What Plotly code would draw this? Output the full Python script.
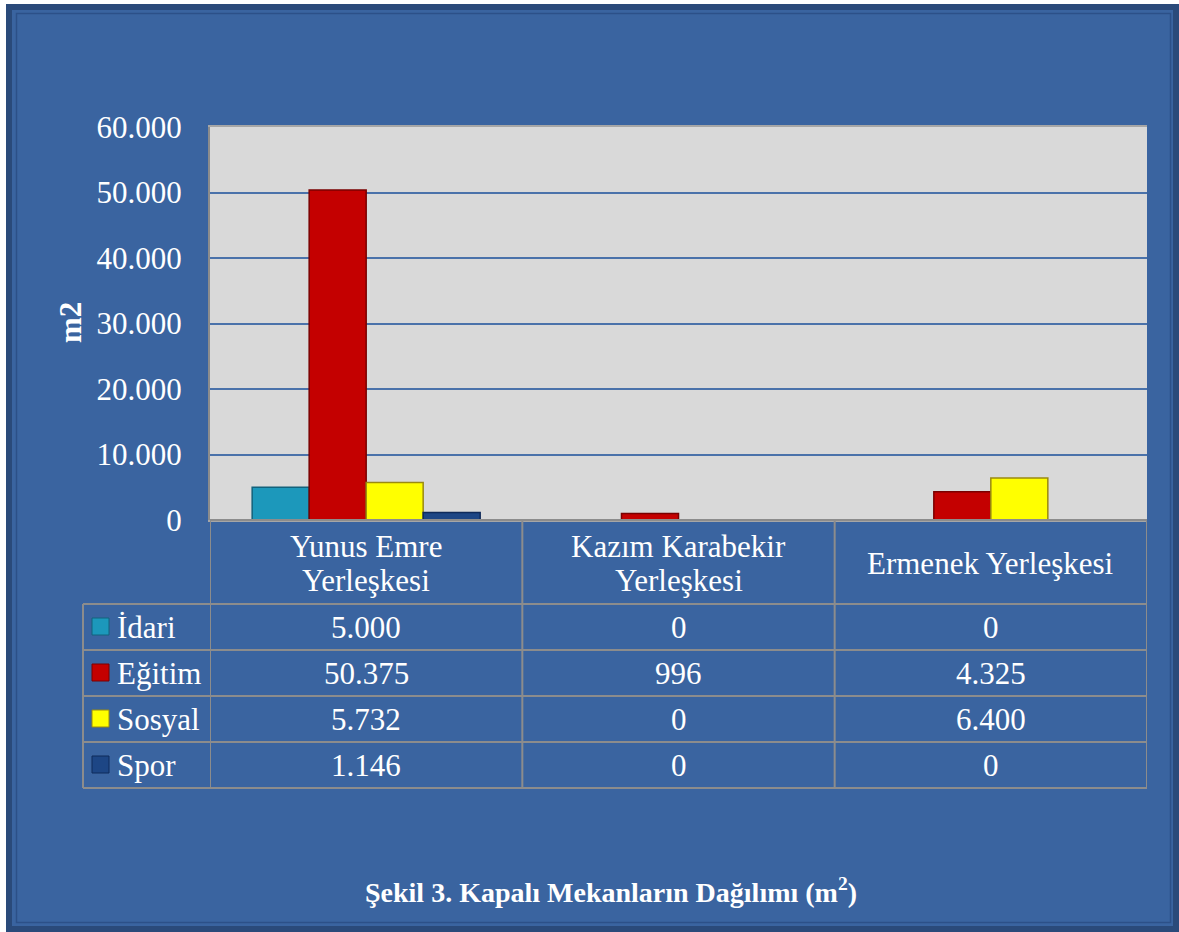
import plotly.graph_objects as go

categories = ["Yunus Emre<br>Yerleşkesi", "Kazım Karabekir<br>Yerleşkesi", "Ermenek Yerleşkesi"]
series_names = ["İdari", "Eğitim", "Sosyal", "Spor"]
idari = [5000, 0, 0]
egitim = [50375, 996, 4325]
sosyal = [5732, 0, 6400]
spor = [1146, 0, 0]
y_ticks = [0, 10000, 20000, 30000, 40000, 50000, 60000]
title_text = "Şekil 3. Kapalı Mekanların Dağılımı (m<sup>2</sup>)"
y_title = "m2"

series_values = [idari, egitim, sosyal, spor]
fill_colors = ["#1C98BB", "#C40000", "#FFFF00", "#1D4685"]
line_colors = ["#12627C", "#7A0000", "#9A8A10", "#0F2A5A"]

W_FIG, H_FIG = 1179, 932
L, R, T, B = 210, 1147, 127, 520
PW, PH = R - L, B - T
BG = "#3A64A0"
DARK = "#2A4A7A"
GRID_LINE = "#8C8C8C"
FONT = "Liberation Serif, Times New Roman, serif"
FS = 31


def fx(p):
    return (p - L) / PW


def fy(p):
    return 1 - (p - T) / PH


def fmt(v):
    return f"{v:,}".replace(",", ".")


fig = go.Figure()
x_idx = list(range(len(categories)))
for name, vals, fc, lc in zip(series_names, series_values, fill_colors, line_colors):
    fig.add_trace(go.Bar(
        x=x_idx, y=vals, name=name,
        marker=dict(color=fc, line=dict(color=lc, width=1.5)),
        hoverinfo="x+y+name",
    ))

shapes = []
annotations = []

# frame
shapes.append(dict(type="rect", xref="paper", yref="paper",
                   x0=fx(0), x1=fx(6), y0=fy(0), y1=fy(H_FIG),
                   fillcolor="white", line=dict(width=0), layer="above"))
shapes.append(dict(type="rect", xref="paper", yref="paper",
                   x0=fx(0), x1=fx(W_FIG), y0=fy(0), y1=fy(4),
                   fillcolor="white", line=dict(width=0), layer="above"))
shapes.append(dict(type="rect", xref="paper", yref="paper",
                   x0=fx(9), x1=fx(1176), y0=fy(7), y1=fy(929),
                   line=dict(color=DARK, width=6), layer="above"))
shapes.append(dict(type="rect", xref="paper", yref="paper",
                   x0=fx(16.5), x1=fx(1170.5), y0=fy(13.5), y1=fy(922.5),
                   line=dict(color="#2C5088", width=1.5), layer="above"))

# data table lines
row_lines = [604, 650, 696, 742, 788]
shapes.append(dict(type="line", xref="paper", yref="paper",
                   x0=fx(L), x1=fx(R), y0=fy(B), y1=fy(B),
                   line=dict(color=GRID_LINE, width=2), layer="above"))
for yl in row_lines:
    shapes.append(dict(type="line", xref="paper", yref="paper",
                       x0=fx(83), x1=fx(R), y0=fy(yl), y1=fy(yl),
                       line=dict(color=GRID_LINE, width=2), layer="above"))
for xb in [-0.5 + i for i in range(len(categories) + 1)]:
    shapes.append(dict(type="line", xref="x", yref="paper",
                       x0=xb, x1=xb, y0=fy(B), y1=fy(788),
                       line=dict(color=GRID_LINE, width=2), layer="above"))
shapes.append(dict(type="line", xref="paper", yref="paper",
                   x0=fx(83), x1=fx(83), y0=fy(604), y1=fy(788),
                   line=dict(color=GRID_LINE, width=2), layer="above"))

# header labels (one annotation per line for tighter line spacing)
for i, c in enumerate(categories):
    lines = c.split("<br>")
    n = len(lines)
    for k, ln in enumerate(lines):
        yc = 563 + (k - (n - 1) / 2) * 34
        annotations.append(dict(x=i, xref="x", y=fy(yc), yref="paper",
                                text=ln, showarrow=False,
                                font=dict(family=FONT, size=FS, color="white"),
                                xanchor="center", yanchor="middle"))

# rows
for r, (name, vals, fc, lc) in enumerate(zip(series_names, series_values, fill_colors, line_colors)):
    yc = (row_lines[r] + row_lines[r + 1]) / 2
    shapes.append(dict(type="rect", xref="paper", yref="paper",
                       x0=fx(92), x1=fx(109), y0=fy(yc - 9), y1=fy(yc + 8),
                       fillcolor=fc, line=dict(color=lc, width=1), layer="above"))
    annotations.append(dict(x=fx(115), xref="paper", y=fy(yc), yref="paper",
                            text=name, showarrow=False,
                            font=dict(family=FONT, size=FS, color="white"),
                            xanchor="left", yanchor="middle"))
    for i, v in enumerate(vals):
        annotations.append(dict(x=i, xref="x", y=fy(yc), yref="paper",
                                text=fmt(v), showarrow=False,
                                font=dict(family=FONT, size=FS, color="white"),
                                xanchor="center", yanchor="middle"))

# y axis title
annotations.append(dict(x=fx(70), xref="paper", y=fy(323), yref="paper",
                        text=f"<b>{y_title}</b>", showarrow=False, textangle=-90,
                        font=dict(family=FONT, size=FS, color="white"),
                        xanchor="center", yanchor="middle"))
# chart title
annotations.append(dict(x=fx(611), xref="paper", y=fy(890), yref="paper",
                        text=f"<b>{title_text}</b>", showarrow=False,
                        font=dict(family=FONT, size=28, color="white"),
                        xanchor="center", yanchor="middle"))

fig.update_layout(
    width=W_FIG, height=H_FIG,
    margin=dict(l=L, r=W_FIG - R, t=T, b=H_FIG - B, pad=0),
    paper_bgcolor=BG, plot_bgcolor="#D9D9D9",
    barmode="group", bargap=0.27, bargroupgap=0,
    showlegend=False,
    separators=",.",
    font=dict(family=FONT, color="white"),
    shapes=shapes, annotations=annotations,
)
fig.update_xaxes(
    range=[-0.5, len(categories) - 0.5], showticklabels=False, showgrid=False,
    zeroline=False, showline=True, linecolor="#A6A6A6", linewidth=2, mirror=True,
    ticks="", fixedrange=True,
)
fig.update_yaxes(
    range=[0, 60000], tickvals=y_ticks, tickformat=",d",
    showgrid=True, gridcolor="#4A72AA", gridwidth=2,
    zeroline=False, showline=True, linecolor=GRID_LINE, linewidth=2,
    ticks="", ticklabelstandoff=20,
    tickfont=dict(family=FONT, size=FS, color="white"), fixedrange=True,
)

fig.write_html("out.html", config={"displayModeBar": False},
               post_script="document.body.style.margin='0';")
